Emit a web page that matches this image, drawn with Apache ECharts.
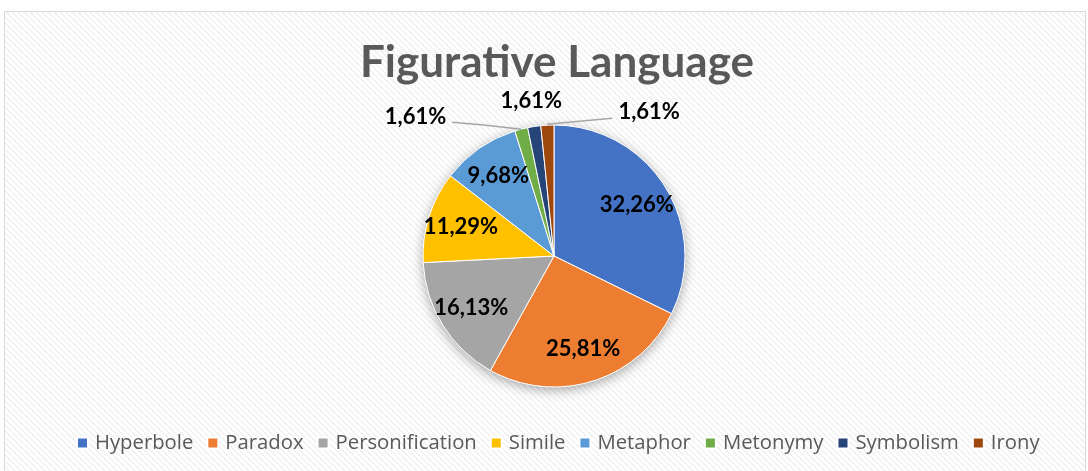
<!DOCTYPE html>
<html><head><meta charset="utf-8">
<script src="https://cdn.jsdelivr.net/npm/echarts@6/dist/echarts.min.js"></script>
<style>html,body{margin:0;padding:0;background:#fff}#c{width:1088px;height:471px}</style>
</head><body><div id="c"></div>
<script>
const titleText = 'Figurative Language';
const categories = ['Hyperbole','Paradox','Personification','Simile','Metaphor','Metonymy','Symbolism','Irony'];
const percents = [32.26, 25.81, 16.13, 11.29, 9.68, 1.61, 1.61, 1.61];
const colors = ['#4472C4','#ED7D31','#A5A5A5','#FFC000','#5B9BD5','#70AD47','#264478','#9E480E'];

const CX = 554, CY = 256, R = 131;

// stripe pattern for chart area
const pc = document.createElement('canvas');
pc.width = 6; pc.height = 6;
const g = pc.getContext('2d');
g.fillStyle = '#ffffff'; g.fillRect(0,0,6,6);
g.strokeStyle = '#f1f1f1'; g.lineWidth = 1.6;
g.beginPath();
for (let k = -6; k <= 12; k += 6) { g.moveTo(k, 0); g.lineTo(k + 6, 6); }
g.stroke();

const total = percents.reduce((a, b) => a + b, 0);
function edgePoint(i) {
  let before = 0;
  for (let k = 0; k < i; k++) before += percents[k];
  const a = (before + percents[i] / 2) / total * 2 * Math.PI;
  return [CX + R * Math.sin(a), CY - R * Math.cos(a)];
}

const chart = echarts.init(document.getElementById('c'), null, {renderer: 'canvas'});
const fmt = p => p.value.toFixed(2).replace('.', ',') + '%';
const data = categories.map((n, i) => ({name: n, value: percents[i], itemStyle: {color: colors[i]}}));
const labelData = categories.map((n, i) => {
  const d = {name: n, value: percents[i]};
  if (i >= 5) {
    d.label = {show: true, position: 'outside'};
    d.labelLine = {show: i !== 6, length: 4, length2: 60, smooth: false, lineStyle: {color: '#a6a6a6', width: 1.5}};
  }
  return d;
});

chart.setOption({
  backgroundColor: '#fff',
  animation: false,
  graphic: [{
    type: 'rect', z: -10, silent: true,
    shape: {x: 4.5, y: 11.5, width: 1081, height: 470},
    style: {fill: {image: pc, repeat: 'repeat'}, stroke: '#d9d9d9', lineWidth: 1}
  }],
  title: {
    text: titleText, left: 355, top: 36,
    textStyle: {fontFamily: 'Lato', fontWeight: 'bold', fontSize: 44, color: '#595959'}
  },
  legend: {
    top: 433, left: 76, padding: 0, itemWidth: 11, itemHeight: 11, itemGap: 13, icon: 'rect',
    data: categories,
    textStyle: {fontFamily: 'Open Sans', fontSize: 20.3, color: '#595959', padding: [0, 0, 0, 2]}
  },
  series: [
    {
      type: 'pie', silent: true, center: [CX, CY], radius: [0, R], z: 1,
      data: [{value: 1, name: '__base', itemStyle: {color: '#fff', shadowBlur: 12, shadowColor: 'rgba(0,0,0,0.35)', shadowOffsetY: 3}}],
      label: {show: false}, labelLine: {show: false}, legendHoverLink: false
    },
    {
      type: 'pie', center: [CX, CY], radius: [0, R], startAngle: 90, clockwise: true, z: 2,
      data: data, label: {show: false}, labelLine: {show: false},
      itemStyle: {borderColor: '#fff', borderWidth: 1}
    },
    {
      type: 'pie', silent: true, center: [CX, CY], radius: [58, R], startAngle: 90, clockwise: true, z: 3,
      data: labelData,
      itemStyle: {color: 'rgba(0,0,0,0)'},
      label: {show: true, position: 'inside', formatter: fmt, fontFamily: 'Lato', fontWeight: 'bold', fontSize: 22, color: '#000'},
      labelLine: {show: false},
      avoidLabelOverlap: false,
      legendHoverLink: false,
      labelLayout: function (p) {
        const i = p.dataIndex;
        if (i < 5) return {};
        const e = edgePoint(i);
        if (i === 5) return {x: e[0] - 75, y: e[1] - 12, align: 'right', verticalAlign: 'middle',
          labelLinePoints: [[e[0], e[1]], [e[0] - 35, e[1] - 4], [e[0] - 69, e[1] - 7]]};
        if (i === 6) return {x: e[0] - 3, y: e[1] - 26, align: 'center', verticalAlign: 'middle'};
        return {x: e[0] + 71, y: e[1] - 13, align: 'left', verticalAlign: 'middle',
          labelLinePoints: [[e[0], e[1] - 1], [e[0] + 32, e[1] - 4], [e[0] + 65, e[1] - 7]]};
      }
    }
  ]
});
</script></body></html>
